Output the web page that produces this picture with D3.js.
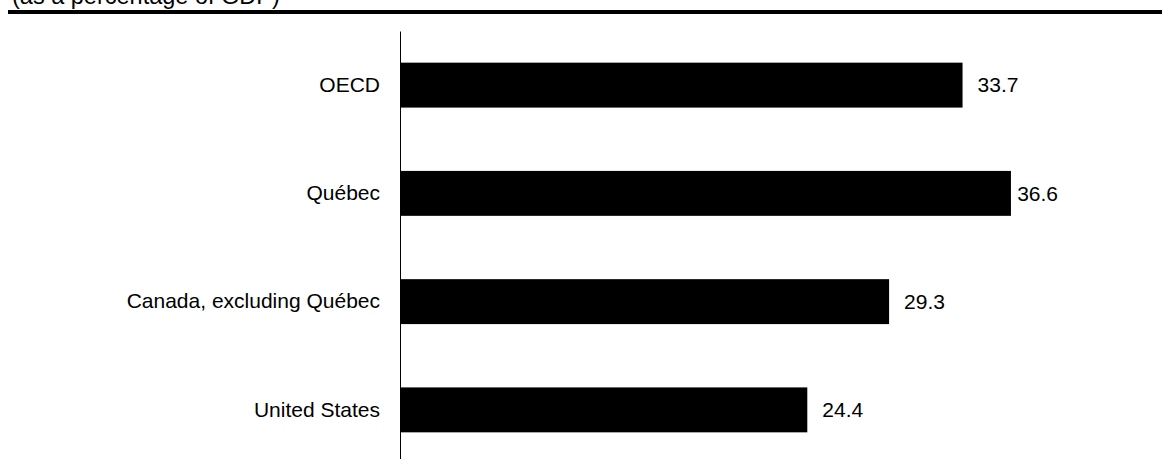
<!DOCTYPE html>
<html>
<head>
<meta charset="utf-8">
<script src="https://cdn.jsdelivr.net/npm/d3@7"></script>
<style>
  html, body { margin: 0; padding: 0; background: #fff; }
  svg { display: block; }
  text { font-family: "Liberation Sans", Arial, sans-serif; fill: #000; }
</style>
</head>
<body>
<div id="chart"></div>
<script>
const categories = ["OECD", "Québec", "Canada, excluding Québec", "United States"];
const values = [33.7, 36.6, 29.3, 24.4];
const subtitle = "(as a percentage of GDP)";

const W = 1162, H = 459;
const fontSize = 21;
const svg = d3.select("#chart").append("svg").attr("width", W).attr("height", H);

// subtitle, clipped at the top edge as in the reference
svg.append("text")
  .attr("x", 12).attr("y", 3.5)
  .attr("font-size", 23.5)
  .text(subtitle);

// thick rule
svg.append("line")
  .attr("x1", 8).attr("x2", W)
  .attr("y1", 12).attr("y2", 12)
  .attr("stroke", "#000").attr("stroke-width", 4);

const x = d3.scaleLinear().domain([0, 40]).range([400, 1067.7]);
const y = d3.scaleBand().domain(categories).range([31, 464])
  .paddingInner(0.585).paddingOuter(0.2925);
const plotRight = 1058;

svg.selectAll("rect.bar").data(values).join("rect")
  .attr("class", "bar")
  .attr("x", x(0))
  .attr("y", (d, i) => y(categories[i]))
  .attr("width", d => x(d) - x(0))
  .attr("height", y.bandwidth())
  .attr("fill", "#000");

// category axis
const yAxis = d3.axisLeft(y).tickSize(0).tickPadding(20);
const ag = svg.append("g").attr("transform", `translate(${x(0)},0)`).call(yAxis);
ag.select(".domain").attr("stroke", "#000").attr("stroke-width", 1);
ag.selectAll("text").attr("font-size", fontSize)
  .attr("font-family", '"Liberation Sans", Arial, sans-serif').attr("fill", "#000");

// value labels
svg.selectAll("text.val").data(values).join("text")
  .attr("class", "val")
  .attr("font-size", fontSize)
  .attr("y", (d, i) => y(categories[i]) + y.bandwidth() / 2)
  .attr("dy", "0.35em")
  .text(d => d.toFixed(1))
  .attr("x", function(d) {
    const w = this.getComputedTextLength();
    return Math.min(x(d) + 15, plotRight - w);
  });
</script>
</body>
</html>
